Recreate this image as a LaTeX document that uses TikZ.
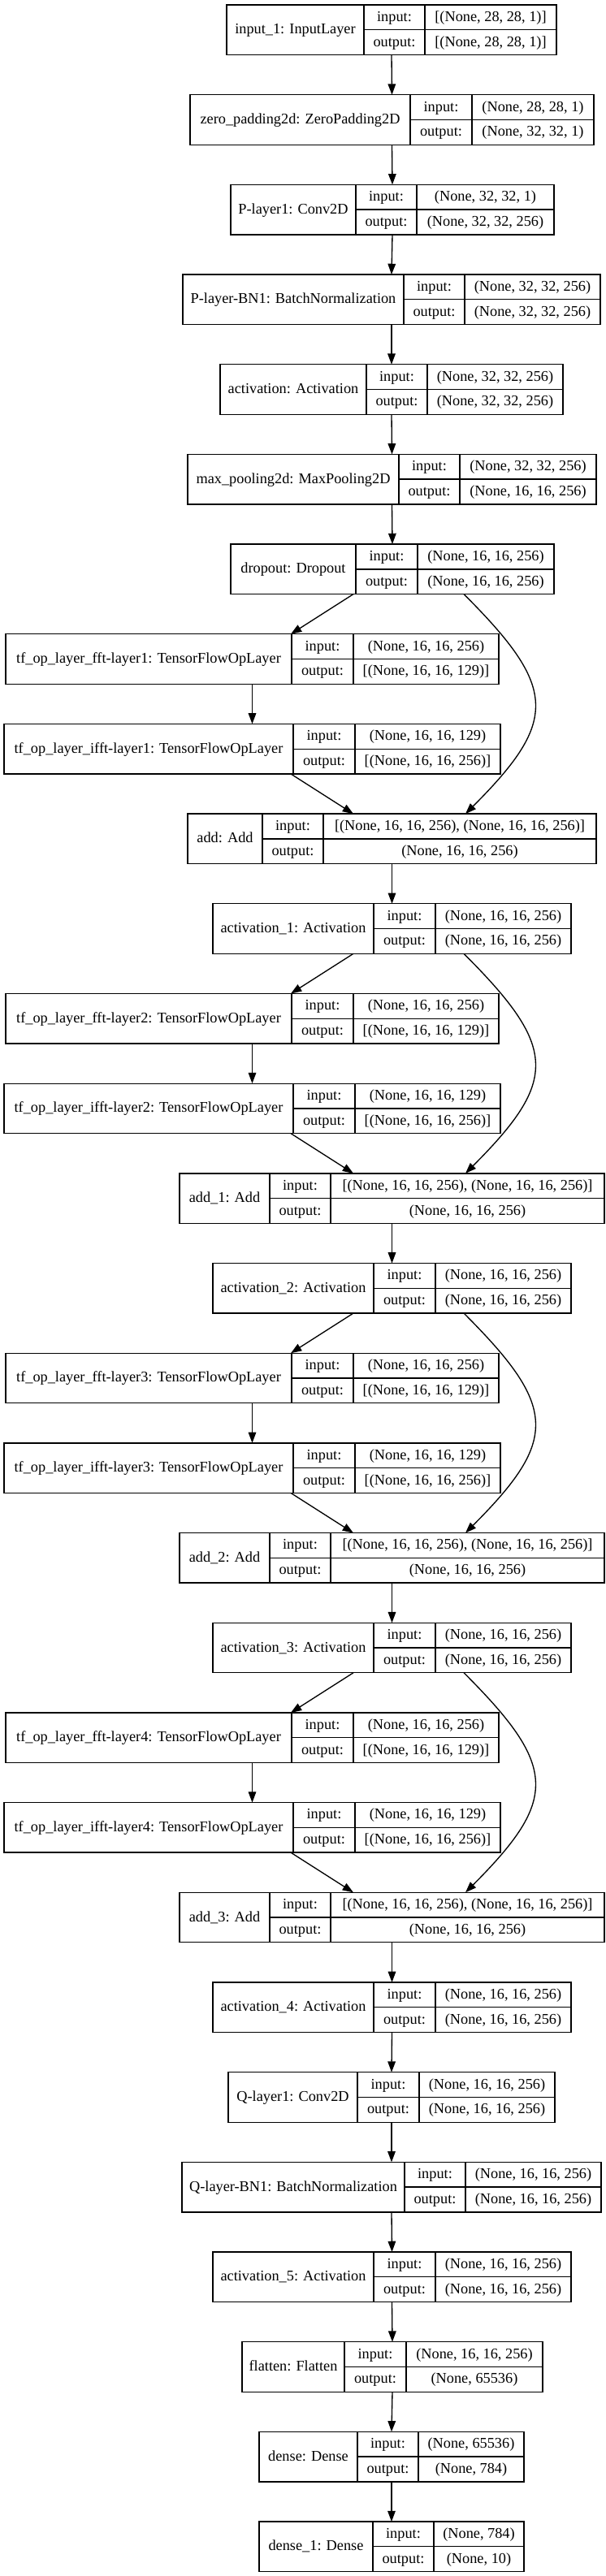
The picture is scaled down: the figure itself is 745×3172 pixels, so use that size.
\documentclass[tikz,border=0pt]{standalone}
\usepackage{fontspec}
\setmainfont{Liberation Serif}
\usetikzlibrary{arrows.meta,calc}
\tikzset{
  box/.style={draw=black, line width=1.33pt, inner sep=0pt, outer sep=0pt, rectangle},
  div/.style={draw=black, line width=1.33pt},
  lbl/.style={anchor=base, inner sep=0pt, font=\fontsize{18.3}{22}\selectfont},
  arr/.style={draw=black, line width=1.33pt, -{Triangle[length=13.3pt,width=9.6pt]}},
}
% #1 name, #2 row, #3 left, #4 div1, #5 div2, #6 right, #7 title, #8 input, #9 output
\newcommand\layer[9]{%
  \pgfmathsetmacro\Ltop{6+110.68*#2}%
  \pgfmathsetmacro\Lbot{\Ltop+61.5}%
  \pgfmathsetmacro\Lmid{\Ltop+30.75}%
  \pgfmathsetmacro\Lw{#6-#3}%
  \node[box, minimum width=\Lw pt, minimum height=61.5pt] (#1) at ({(#3+#6)/2},\Lmid) {};
  \draw[div] (#4,\Ltop) -- (#4,\Lbot) (#5,\Ltop) -- (#5,\Lbot) (#4,\Lmid) -- (#6,\Lmid);
  \node[lbl] (#1-name) at ({(#3+#4)/2},{\Lmid+5}) {#7};
  \node[lbl] (#1-inl) at ({(#4+#5)/2},{\Lmid-15.4+5}) {input:};
  \node[lbl] (#1-outl) at ({(#4+#5)/2},{\Lmid+15.4+5}) {output:};
  \node[lbl] (#1-inv) at ({(#5+#6)/2},{\Lmid-15.4+5}) {#8};
  \node[lbl] (#1-outv) at ({(#5+#6)/2},{\Lmid+15.4+5}) {#9};
}
\begin{document}
\begin{tikzpicture}[x=1pt,y=-1pt]
\fill[white] (0,0) rectangle (745,3172);
\useasboundingbox (0,0) rectangle (745,3172);

\layer{in1}{0}{279}{448}{523}{685}{input\_1: InputLayer}{[(None, 28, 28, 1)]}{[(None, 28, 28, 1)]}
\layer{zp}{1}{234}{505}{581}{731}{zero\_padding2d: ZeroPadding2D}{(None, 28, 28, 1)}{(None, 32, 32, 1)}
\layer{pl}{2}{284}{438}{513}{682}{P-layer1: Conv2D}{(None, 32, 32, 1)}{(None, 32, 32, 256)}
\layer{pbn}{3}{225}{497}{572}{739}{P-layer-BN1: BatchNormalization}{(None, 32, 32, 256)}{(None, 32, 32, 256)}
\layer{act}{4}{271}{451}{526}{693}{activation: Activation}{(None, 32, 32, 256)}{(None, 32, 32, 256)}
\layer{mp}{5}{231}{491}{566}{734}{max\_pooling2d: MaxPooling2D}{(None, 32, 32, 256)}{(None, 16, 16, 256)}
\layer{drop}{6}{284}{438}{514}{682}{dropout: Dropout}{(None, 16, 16, 256)}{(None, 16, 16, 256)}
\layer{fftA}{7}{7}{359}{435}{614}{tf\_op\_layer\_fft-layer1: TensorFlowOpLayer}{(None, 16, 16, 256)}{[(None, 16, 16, 129)]}
\layer{ifftA}{8}{5}{361}{437}{616}{tf\_op\_layer\_ifft-layer1: TensorFlowOpLayer}{(None, 16, 16, 129)}{[(None, 16, 16, 256)]}
\layer{addA}{9}{231}{323}{398}{734}{add: Add}{[(None, 16, 16, 256), (None, 16, 16, 256)]}{(None, 16, 16, 256)}
\layer{actA}{10}{262}{460}{536}{703}{activation\_1: Activation}{(None, 16, 16, 256)}{(None, 16, 16, 256)}
\layer{fftB}{11}{7}{359}{435}{614}{tf\_op\_layer\_fft-layer2: TensorFlowOpLayer}{(None, 16, 16, 256)}{[(None, 16, 16, 129)]}
\layer{ifftB}{12}{5}{361}{437}{616}{tf\_op\_layer\_ifft-layer2: TensorFlowOpLayer}{(None, 16, 16, 129)}{[(None, 16, 16, 256)]}
\layer{addB}{13}{221}{332}{407}{744}{add\_1: Add}{[(None, 16, 16, 256), (None, 16, 16, 256)]}{(None, 16, 16, 256)}
\layer{actB}{14}{262}{460}{536}{703}{activation\_2: Activation}{(None, 16, 16, 256)}{(None, 16, 16, 256)}
\layer{fftC}{15}{7}{359}{435}{614}{tf\_op\_layer\_fft-layer3: TensorFlowOpLayer}{(None, 16, 16, 256)}{[(None, 16, 16, 129)]}
\layer{ifftC}{16}{5}{361}{437}{616}{tf\_op\_layer\_ifft-layer3: TensorFlowOpLayer}{(None, 16, 16, 129)}{[(None, 16, 16, 256)]}
\layer{addC}{17}{221}{332}{407}{744}{add\_2: Add}{[(None, 16, 16, 256), (None, 16, 16, 256)]}{(None, 16, 16, 256)}
\layer{actC}{18}{262}{460}{536}{703}{activation\_3: Activation}{(None, 16, 16, 256)}{(None, 16, 16, 256)}
\layer{fftD}{19}{7}{359}{435}{614}{tf\_op\_layer\_fft-layer4: TensorFlowOpLayer}{(None, 16, 16, 256)}{[(None, 16, 16, 129)]}
\layer{ifftD}{20}{5}{361}{437}{616}{tf\_op\_layer\_ifft-layer4: TensorFlowOpLayer}{(None, 16, 16, 129)}{[(None, 16, 16, 256)]}
\layer{addD}{21}{221}{332}{407}{744}{add\_3: Add}{[(None, 16, 16, 256), (None, 16, 16, 256)]}{(None, 16, 16, 256)}
\layer{actD}{22}{262}{460}{536}{703}{activation\_4: Activation}{(None, 16, 16, 256)}{(None, 16, 16, 256)}
\layer{ql}{23}{281}{440}{516}{683}{Q-layer1: Conv2D}{(None, 16, 16, 256)}{(None, 16, 16, 256)}
\layer{qbn}{24}{224}{498}{573}{740}{Q-layer-BN1: BatchNormalization}{(None, 16, 16, 256)}{(None, 16, 16, 256)}
\layer{actE}{25}{262}{460}{536}{703}{activation\_5: Activation}{(None, 16, 16, 256)}{(None, 16, 16, 256)}
\layer{flat}{26}{298}{424}{500}{668}{flatten: Flatten}{(None, 16, 16, 256)}{(None, 65536)}
\layer{dense}{27}{319}{440}{515}{645}{dense: Dense}{(None, 65536)}{(None, 784)}
\layer{denseB}{28}{319}{459}{534}{645}{dense\_1: Dense}{(None, 784)}{(None, 10)}

% straight chain
\draw[arr] (in1.south) -- (zp.north);
\draw[arr] (zp.south) -- (pl.north);
\draw[arr] (pl.south) -- (pbn.north);
\draw[arr] (pbn.south) -- (act.north);
\draw[arr] (act.south) -- (mp.north);
\draw[arr] (mp.south) -- (drop.north);

% residual blocks
\draw[arr] ([xshift=-48pt]drop.south) -- ([xshift=47.5pt]fftA.north);
\draw[arr] (fftA.south) -- (ifftA.north);
\draw[arr] ([xshift=47.5pt]ifftA.south) -- ([xshift=-47.5pt]addA.north);
\draw[arr] ([xshift=88pt]drop.south) .. controls +(115,115) and +(115,-115) .. ([xshift=90.5pt]addA.north);
\draw[arr] (addA.south) -- (actA.north);

\draw[arr] ([xshift=-47.5pt]actA.south) -- ([xshift=47.5pt]fftB.north);
\draw[arr] (fftB.south) -- (ifftB.north);
\draw[arr] ([xshift=47.5pt]ifftB.south) -- ([xshift=-47.5pt]addB.north);
\draw[arr] ([xshift=88.5pt]actA.south) .. controls +(115,115) and +(115,-115) .. ([xshift=90.5pt]addB.north);
\draw[arr] (addB.south) -- (actB.north);

\draw[arr] ([xshift=-47.5pt]actB.south) -- ([xshift=47.5pt]fftC.north);
\draw[arr] (fftC.south) -- (ifftC.north);
\draw[arr] ([xshift=47.5pt]ifftC.south) -- ([xshift=-47.5pt]addC.north);
\draw[arr] ([xshift=88.5pt]actB.south) .. controls +(115,115) and +(115,-115) .. ([xshift=90.5pt]addC.north);
\draw[arr] (addC.south) -- (actC.north);

\draw[arr] ([xshift=-47.5pt]actC.south) -- ([xshift=47.5pt]fftD.north);
\draw[arr] (fftD.south) -- (ifftD.north);
\draw[arr] ([xshift=47.5pt]ifftD.south) -- ([xshift=-47.5pt]addD.north);
\draw[arr] ([xshift=88.5pt]actC.south) .. controls +(115,115) and +(115,-115) .. ([xshift=90.5pt]addD.north);
\draw[arr] (addD.south) -- (actD.north);

% tail
\draw[arr] (actD.south) -- (ql.north);
\draw[arr] (ql.south) -- (qbn.north);
\draw[arr] (qbn.south) -- (actE.north);
\draw[arr] (actE.south) -- (flat.north);
\draw[arr] (flat.south) -- (dense.north);
\draw[arr] (dense.south) -- (denseB.north);
\end{tikzpicture}
\end{document}
